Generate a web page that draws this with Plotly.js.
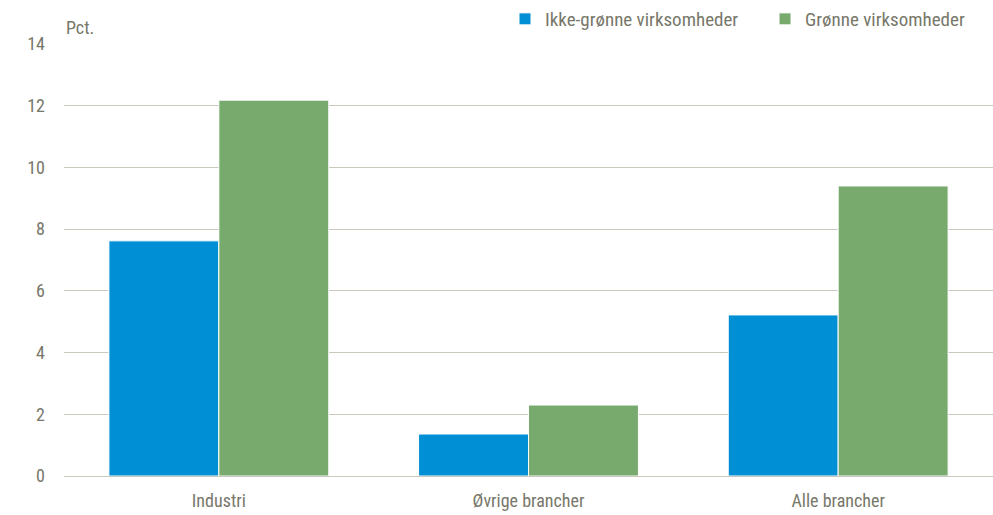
<!DOCTYPE html>
<html>
<head>
<meta charset="utf-8">
<script src="https://cdn.plot.ly/plotly-3.0.1.min.js"></script>
<style>html,body{margin:0;padding:0;background:#fff;}#chart{width:993px;height:515px;}</style>
</head>
<body>
<div id="chart"></div>
<script>
const categories = ["Industri", "Øvrige brancher", "Alle brancher"];
const ikkeGronne = [7.62, 1.36, 5.22];
const gronne = [12.18, 2.30, 9.40];
const seriesNames = ["Ikke-grønne virksomheder", "Grønne virksomheder"];
const yTicks = [0, 2, 4, 6, 8, 10, 12, 14];

const FONT = "'Liberation Sans Narrow', 'Arial Narrow', 'Roboto Condensed', Roboto, sans-serif";
const TXT = "#77776a";

const traces = [
  {type: "bar", name: seriesNames[0], x: categories, y: ikkeGronne,
   marker: {color: "#008fd5", line: {color: "#ffffff", width: 1}}, hoverinfo: "none"},
  {type: "bar", name: seriesNames[1], x: categories, y: gronne,
   marker: {color: "#78aa6e", line: {color: "#ffffff", width: 1}}, hoverinfo: "none"}
];

const layout = {
  width: 993, height: 515,
  margin: {l: 64, r: 0, t: 44, b: 39, autoexpand: false},
  paper_bgcolor: "#ffffff", plot_bgcolor: "#ffffff",
  font: {family: FONT, size: 18, color: TXT},
  barmode: "group", bargap: 0.29, bargroupgap: 0,
  showlegend: true,
  legend: {orientation: "h", xref: "container", yref: "container", x: 505 / 993, xanchor: "left",
           y: 1, yanchor: "top", itemwidth: 30, traceorder: "normal",
           entrywidth: 215, entrywidthmode: "pixels",
           font: {family: FONT, size: 19, color: TXT}},
  xaxis: {showgrid: false, zeroline: false, showline: false, ticks: "", automargin: false,
          ticklabelstandoff: 12,
          tickfont: {family: FONT, size: 18, color: TXT}},
  yaxis: {range: [0, 14], tickvals: yTicks, showgrid: true, gridcolor: "#c8c8bc", gridwidth: 1,
          zeroline: true, zerolinecolor: "#c8c8bc", zerolinewidth: 1, showline: false, ticks: "",
          ticklabelstandoff: 18, automargin: false,
          tickfont: {family: FONT, size: 18, color: TXT}},
  annotations: [{text: "Pct.", xref: "paper", yref: "paper", x: 0, y: 1, xanchor: "left", yanchor: "bottom",
                 yshift: 4, showarrow: false, font: {family: FONT, size: 18, color: TXT}}]
};

Plotly.newPlot("chart", traces, layout, {displayModeBar: false, staticPlot: true});
</script>
</body>
</html>
